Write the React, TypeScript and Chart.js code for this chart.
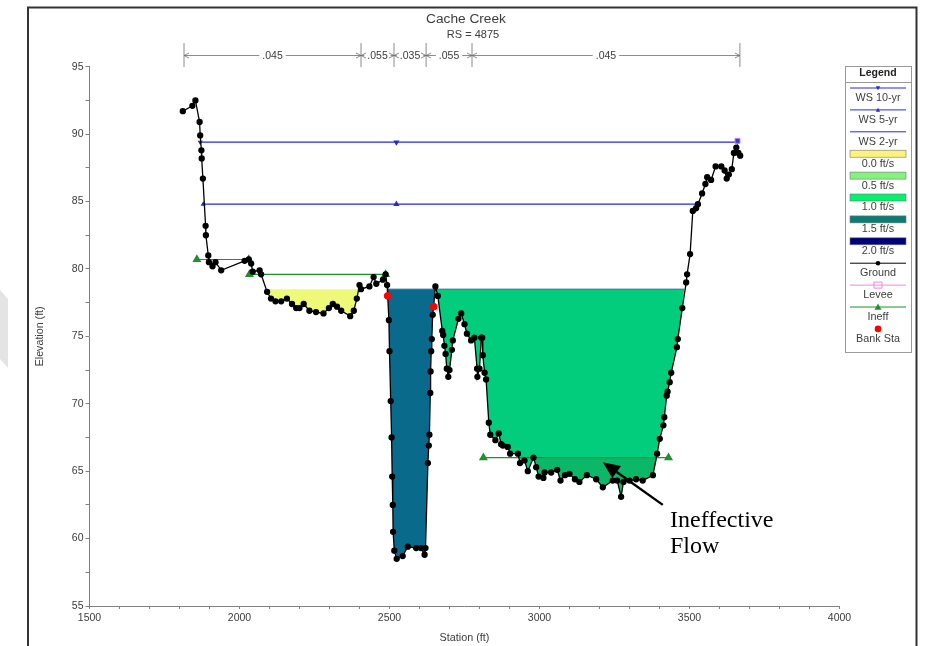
import React, { useEffect, useRef } from "react";
import { Chart, registerables } from "chart.js";

Chart.register(...registerables);

const chartTitle = "Cache Creek";
const chartSubtitle = "RS = 4875";
const xAxisTitle = "Station (ft)";
const yAxisTitle = "Elevation (ft)";

const groundStation = [
  1811, 1843, 1853, 1867, 1869, 1873, 1874, 1878, 1887, 1888, 1896, 1898, 1910, 1920, 1939, 2017, 2031, 2039, 2044, 2067,
  2072, 2092, 2105, 2120, 2139, 2158, 2175, 2189, 2200, 2214, 2233, 2255, 2280, 2298, 2311, 2325, 2339, 2369, 2381, 2391,
  2400, 2405, 2433, 2447, 2456, 2478, 2487, 2492, 2494, 2498, 2500, 2504, 2507, 2509, 2511, 2512, 2516, 2524, 2544, 2561,
  2589, 2605, 2617, 2620, 2628, 2631, 2633, 2636, 2637, 2639, 2641, 2644, 2647, 2653, 2661, 2676, 2679, 2683, 2687, 2691,
  2696, 2700, 2708, 2711, 2730, 2739, 2750, 2758, 2772, 2783, 2792, 2793, 2800, 2806, 2809, 2811, 2817, 2822, 2831, 2836,
  2853, 2864, 2872, 2878, 2894, 2902, 2928, 2935, 2950, 2961, 2980, 2989, 2997, 3013, 3017, 3039, 3059, 3070, 3085, 3100,
  3118, 3133, 3158, 3189, 3211, 3244, 3259, 3272, 3280, 3300, 3322, 3344, 3378, 3392, 3401, 3413, 3416, 3424, 3427, 3434,
  3439, 3458, 3461, 3476, 3489, 3492, 3502, 3511, 3522, 3528, 3542, 3553, 3559, 3572, 3587, 3606, 3617, 3624, 3631, 3641,
  3648, 3656, 3663, 3669,
];
const groundElevation = [
  91.7, 92.1, 92.5, 90.9, 89.9, 88.8, 88.2, 86.7, 83.2, 82.5, 81, 80.5, 80.2, 80.5, 79.9, 80.6, 80.7, 80.4, 79.8, 79.9,
  79.6, 78.3, 77.8, 77.6, 77.6, 77.8, 77.4, 77.1, 77.1, 77.4, 76.9, 76.8, 76.7, 77.1, 77.4, 77.2, 76.9, 76.5, 76.9, 77.8,
  78.8, 78.5, 78.7, 79.4, 78.9, 79.2, 79.6, 78.8, 78, 76.2, 73.9, 70.2, 67.5, 64.6, 62.5, 60.5, 59.1, 58.5, 58.7, 59.4,
  59.3, 59.3, 58.8, 59.3, 65.6, 66.9, 67.7, 70.8, 72.4, 73.9, 74.8, 76.6, 77.2, 78.7, 78, 75.4, 75.1, 74.3, 73.7, 72.6,
  72, 72.5, 74, 74.7, 76.3, 76.7, 75.9, 75.2, 74.7, 74.9, 72.6, 72, 72.6, 74.9, 74.9, 73.6, 72.3, 71.8, 68.6, 67.7,
  67.3, 67.8, 67, 66.9, 66.8, 66.3, 66.3, 65.6, 65.8, 65, 66, 65.3, 64.6, 64.5, 64.9, 64.9, 65.1, 64.3, 64.7, 64.8,
  64.4, 64.2, 64.7, 64.4, 63.8, 64.3, 64.3, 63.1, 64.2, 64.3, 64.4, 64.3, 64.7, 66.3, 67.4, 68.4, 69, 70.6, 70.9, 71.6,
  72.3, 74.2, 74.8, 77.1, 79, 79.6, 81.1, 84.3, 84.5, 84.8, 85.6, 86.3, 86.8, 86.6, 87.6, 87.6, 87.3, 86.7, 87, 87.4,
  88.6, 89, 88.6, 88.4,
];

const ws10Station = [1869, 2523, 3660];
const ws10Elevation = [89.4, 89.4, 89.4];
const ws5Station = [1879, 2523, 3528];
const ws5Elevation = [84.8, 84.8, 84.8];
const ws2Station = [2493, 3482];
const ws2Elevation = [78.5, 78.5];

const levelOverbank = 78.5;
const rangeYellow = [2092, 2397];
const rangeTeal = [2493, 2652];
const rangeGreen = [2655, 3482];
const levelIneffective = 66;
const rangeDarkGreen = [2980, 3392];

const ineffA = { station: [1858, 2031], elevation: [80.7, 80.7] };
const ineffB = { station: [2033, 2487], elevation: [79.6, 79.6] };
const ineffC = { station: [2813, 3430], elevation: [66, 66] };
const levee = { station: [3660], elevation: [89.5] };
const bankStation = [2494, 2647];
const bankElevation = [78, 77.2];

const manningBreaks = [1815, 2405, 2515, 2622, 2775, 3668];
const manningValues = [".045", ".055", ".035", ".055", ".045"];

const legendLabels = ["WS 10-yr", "WS 5-yr", "WS 2-yr", "0.0 ft/s", "0.5 ft/s", "1.0 ft/s", "1.5 ft/s", "2.0 ft/s", "Ground", "Levee", "Ineff", "Bank Sta"];
const legendKinds = ["wsDown", "wsUp", "ws", "#fdf27c", "#86f27e", "#05f06c", "#0a7c74", "#00007c", "ground", "levee", "ineff", "bank"];

const annotationLines = ["Ineffective", "Flow"];
const annotationAt = { station: 3435, elevations: [60.85, 58.93] };
const arrowTip = { station: 3211, elevation: 65.67 };
const arrowTail = { station: 3411, elevation: 62.5 };

const SANS = '"Liberation Sans", Arial, sans-serif';
const TEXT = "#3c3c3c";

const pts = (xs: number[], ys: number[]) => xs.map((x, i) => ({ x, y: ys[i] }));
const groundPts = pts(groundStation, groundElevation);
const pool = (range: number[], level: number) => [
  { x: range[0], y: level },
  ...groundPts.filter((p) => p.x > range[0] && p.x < range[1]).map((p) => ({ x: p.x, y: Math.min(p.y, level) })),
  { x: range[1], y: level },
];
const fillSet = (range: number[], level: number, color: string) => ({
  data: pool(range, level),
  borderWidth: 0,
  borderColor: "transparent",
  pointRadius: 0,
  backgroundColor: color,
  fill: { value: level },
  order: 10,
});

const framePlugin = {
  id: "frame",
  beforeDraw(chart: any) {
    const c = chart.ctx;
    c.save();
    c.fillStyle = "#ffffff";
    c.fillRect(0, 0, 931, 646);
    c.fillStyle = "#e4e4e4";
    c.beginPath();
    c.moveTo(0, 290);
    c.lineTo(8, 299);
    c.lineTo(8, 368);
    c.lineTo(0, 359);
    c.closePath();
    c.fill();
    c.strokeStyle = "#333333";
    c.lineWidth = 2;
    c.beginPath();
    c.moveTo(28, 646);
    c.lineTo(28, 7.5);
    c.lineTo(916.5, 7.5);
    c.lineTo(916.5, 646);
    c.stroke();
    c.restore();
  },
};

function legendMark(c: any, kind: string, cx: number, y: number) {
  const l = cx - 28;
  const r = cx + 28;
  const hline = (color: string, w = 1) => {
    c.strokeStyle = color;
    c.lineWidth = w;
    c.beginPath();
    c.moveTo(l, y);
    c.lineTo(r, y);
    c.stroke();
  };
  const tri = (color: string, s: number, down: boolean) => {
    c.fillStyle = color;
    c.beginPath();
    const d = down ? -1 : 1;
    c.moveTo(cx, y - s * d);
    c.lineTo(cx + s, y + s * 0.8 * d);
    c.lineTo(cx - s, y + s * 0.8 * d);
    c.closePath();
    c.fill();
  };
  if (kind.startsWith("#")) {
    c.fillStyle = kind;
    c.fillRect(l, y - 3.5, r - l, 7);
    c.strokeStyle = "#777777";
    c.lineWidth = 0.6;
    c.strokeRect(l, y - 3.5, r - l, 7);
  } else if (kind === "wsDown") {
    hline("#2a2ad0");
    tri("#2a2ad0", 2.2, true);
  } else if (kind === "wsUp") {
    hline("#2a2ad0");
    tri("#2a2ad0", 2.2, false);
  } else if (kind === "ws") {
    hline("#2a2ad0");
  } else if (kind === "ground") {
    hline("#000000");
    c.fillStyle = "#000000";
    c.beginPath();
    c.arc(cx, y, 2.3, 0, Math.PI * 2);
    c.fill();
  } else if (kind === "levee") {
    hline("#e090e0");
    c.strokeStyle = "#e090e0";
    c.strokeRect(cx - 4, y - 3, 8, 6);
  } else if (kind === "ineff") {
    hline("#1f8f2f");
    tri("#1f8f2f", 3.5, false);
  } else if (kind === "bank") {
    c.fillStyle = "#ff0000";
    c.beginPath();
    c.arc(cx, y, 3.3, 0, Math.PI * 2);
    c.fill();
  }
}

const overlayPlugin = {
  id: "overlay",
  afterDraw(chart: any) {
    const c = chart.ctx;
    const xs = chart.scales.x;
    const ys = chart.scales.y;
    c.save();
    c.textAlign = "center";
    c.textBaseline = "middle";
    c.fillStyle = TEXT;
    c.font = `13.7px ${SANS}`;
    c.fillText(chartTitle, 466, 19);
    c.font = `11px ${SANS}`;
    c.fillText(chartSubtitle, 473, 35);

    // Manning's n bar
    const barY = 55.5;
    c.strokeStyle = "#6e6e6e";
    c.lineWidth = 0.8;
    manningBreaks.forEach((b) => {
      const x = xs.getPixelForValue(b);
      c.beginPath();
      c.moveTo(x, 43);
      c.lineTo(x, 67);
      c.stroke();
    });
    manningValues.forEach((v, i) => {
      const a = xs.getPixelForValue(manningBreaks[i]);
      const b = xs.getPixelForValue(manningBreaks[i + 1]);
      const m = (a + b) / 2;
      c.font = `10.5px ${SANS}`;
      const half = c.measureText(v).width / 2 + 3;
      c.beginPath();
      c.moveTo(a, barY);
      c.lineTo(Math.max(a, m - half), barY);
      c.moveTo(Math.min(b, m + half), barY);
      c.lineTo(b, barY);
      c.moveTo(a + 5, barY - 2.5);
      c.lineTo(a, barY);
      c.lineTo(a + 5, barY + 2.5);
      c.moveTo(b - 5, barY - 2.5);
      c.lineTo(b, barY);
      c.lineTo(b - 5, barY + 2.5);
      c.stroke();
      c.fillStyle = TEXT;
      c.fillText(v, m, barY + 0.5);
    });

    // Annotation
    const tx = xs.getPixelForValue(arrowTip.station);
    const ty = ys.getPixelForValue(arrowTip.elevation);
    const fx = xs.getPixelForValue(arrowTail.station);
    const fy = ys.getPixelForValue(arrowTail.elevation);
    const ang = Math.atan2(fy - ty, fx - tx);
    const hl = 17;
    const hw = 7.5;
    const bx = tx + Math.cos(ang) * hl;
    const by = ty + Math.sin(ang) * hl;
    c.strokeStyle = "#000000";
    c.fillStyle = "#000000";
    c.lineWidth = 2.4;
    c.beginPath();
    c.moveTo(fx, fy);
    c.lineTo(bx, by);
    c.stroke();
    c.beginPath();
    c.moveTo(tx, ty);
    c.lineTo(bx - Math.sin(ang) * hw, by + Math.cos(ang) * hw);
    c.lineTo(bx + Math.sin(ang) * hw, by - Math.cos(ang) * hw);
    c.closePath();
    c.fill();
    c.textAlign = "left";
    c.textBaseline = "alphabetic";
    c.font = '24px "Liberation Serif", serif';
    annotationLines.forEach((t, i) => {
      c.fillText(t, xs.getPixelForValue(annotationAt.station), ys.getPixelForValue(annotationAt.elevations[i]));
    });

    // Legend
    const lx = 845;
    const lw = 66;
    const cx = lx + lw / 2;
    c.fillStyle = "#ffffff";
    c.fillRect(lx, 66, lw, 286);
    c.strokeStyle = "#999999";
    c.lineWidth = 1;
    c.strokeRect(lx + 0.5, 66.5, lw, 286);
    c.beginPath();
    c.moveTo(lx, 82.5);
    c.lineTo(lx + lw, 82.5);
    c.stroke();
    c.textAlign = "center";
    c.textBaseline = "middle";
    c.fillStyle = "#222222";
    c.font = `bold 10.5px ${SANS}`;
    c.fillText("Legend", cx, 73.5);
    c.font = `10.8px ${SANS}`;
    legendLabels.forEach((label, i) => {
      const markY = 88 + i * 21.9;
      legendMark(c, legendKinds[i], cx, markY);
      c.fillStyle = TEXT;
      c.fillText(label, cx, markY + 10);
    });
    c.restore();
  },
};

export default function App() {
  const ref = useRef<HTMLCanvasElement | null>(null);
  useEffect(() => {
    if (!ref.current) return;
    const blue = "#2a2ad0";
    const green = "#1f8f2f";
    const ineffSet = (s: { station: number[]; elevation: number[] }) => ({
      data: pts(s.station, s.elevation),
      borderColor: green,
      backgroundColor: green,
      borderWidth: 1.2,
      pointStyle: "triangle",
      pointRadius: 4,
      order: 3,
    });
    const chart = new Chart(ref.current, {
      type: "line",
      plugins: [framePlugin, overlayPlugin],
      data: {
        datasets: [
          fillSet(rangeYellow, levelOverbank, "#eef977"),
          fillSet(rangeTeal, levelOverbank, "#0a6a8c"),
          fillSet(rangeGreen, levelOverbank, "#02cd7c"),
          { ...fillSet(rangeDarkGreen, levelIneffective, "#0cb868"), order: 9 },
          {
            data: pts(ws2Station, ws2Elevation),
            borderColor: "#2a6a9c",
            borderWidth: 1,
            pointRadius: 0,
            order: 5,
          },
          {
            data: pts(ws10Station, ws10Elevation),
            borderColor: blue,
            backgroundColor: blue,
            borderWidth: 1.2,
            pointStyle: "triangle",
            rotation: 180,
            pointRadius: [1.8, 2.4, 1.8],
            order: 4,
          },
          {
            data: pts(ws5Station, ws5Elevation),
            borderColor: blue,
            backgroundColor: blue,
            borderWidth: 1.2,
            pointStyle: "triangle",
            pointRadius: [1.8, 2.4, 1.8],
            order: 4,
          },
          ineffSet(ineffA),
          ineffSet(ineffB),
          ineffSet(ineffC),
          {
            data: groundPts,
            borderColor: "#000000",
            backgroundColor: "#000000",
            borderWidth: 1.3,
            pointRadius: 2.5,
            order: 2,
          },
          {
            data: pts(levee.station, levee.elevation),
            borderColor: "#c080e0",
            backgroundColor: "#3a3ad0",
            borderWidth: 1,
            pointStyle: "rect",
            pointRadius: 3.5,
            showLine: false,
            order: 1,
          },
          {
            data: pts(bankStation, bankElevation),
            borderColor: "#ff0000",
            backgroundColor: "#ff0000",
            pointRadius: 3.4,
            showLine: false,
            order: 0,
          },
        ],
      },
      options: {
        responsive: false,
        animation: false,
        events: [],
        elements: { line: { tension: 0 } },
        layout: { padding: { left: 29.5, right: 91.5, top: 66.7, bottom: 0 } },
        plugins: { legend: { display: false }, tooltip: { enabled: false }, title: { display: false } },
        scales: {
          x: {
            type: "linear",
            min: 1500,
            max: 4000,
            afterFit(s: any) {
              s.height = 40;
              s.paddingLeft = 0;
              s.paddingRight = 0;
            },
            border: { color: "#808080", width: 1 },
            grid: { drawOnChartArea: false, color: "#808080", tickLength: 3 },
            ticks: {
              stepSize: 100,
              autoSkip: false,
              maxRotation: 0,
              padding: 3,
              color: TEXT,
              font: { family: "Liberation Sans", size: 10.5 },
              callback: (v: any) => (Number(v) % 500 === 0 ? String(v) : ""),
            },
            title: {
              display: true,
              text: xAxisTitle,
              color: TEXT,
              font: { family: "Liberation Sans", size: 10.8 },
              padding: { top: 0, bottom: 1 },
            },
          },
          y: {
            type: "linear",
            min: 55,
            max: 95,
            afterFit(s: any) {
              s.width = 60;
              s.paddingTop = 0;
              s.paddingBottom = 0;
            },
            border: { color: "#808080", width: 1 },
            grid: { drawOnChartArea: false, color: "#808080", tickLength: 4 },
            ticks: {
              stepSize: 2.5,
              autoSkip: false,
              padding: 2,
              color: TEXT,
              font: { family: "Liberation Sans", size: 10.5 },
              callback: (v: any) => (Number(v) % 5 === 0 ? String(v) : ""),
            },
            title: {
              display: true,
              text: yAxisTitle,
              color: TEXT,
              font: { family: "Liberation Sans", size: 10.7 },
              padding: { top: 4, bottom: 0 },
            },
          },
        },
      },
    } as any);
    return () => chart.destroy();
  }, []);
  return (
    <div style={{ position: "absolute", left: 0, top: 0, width: 931, height: 646 }}>
      <canvas ref={ref} width={931} height={646} style={{ display: "block" }} />
    </div>
  );
}
